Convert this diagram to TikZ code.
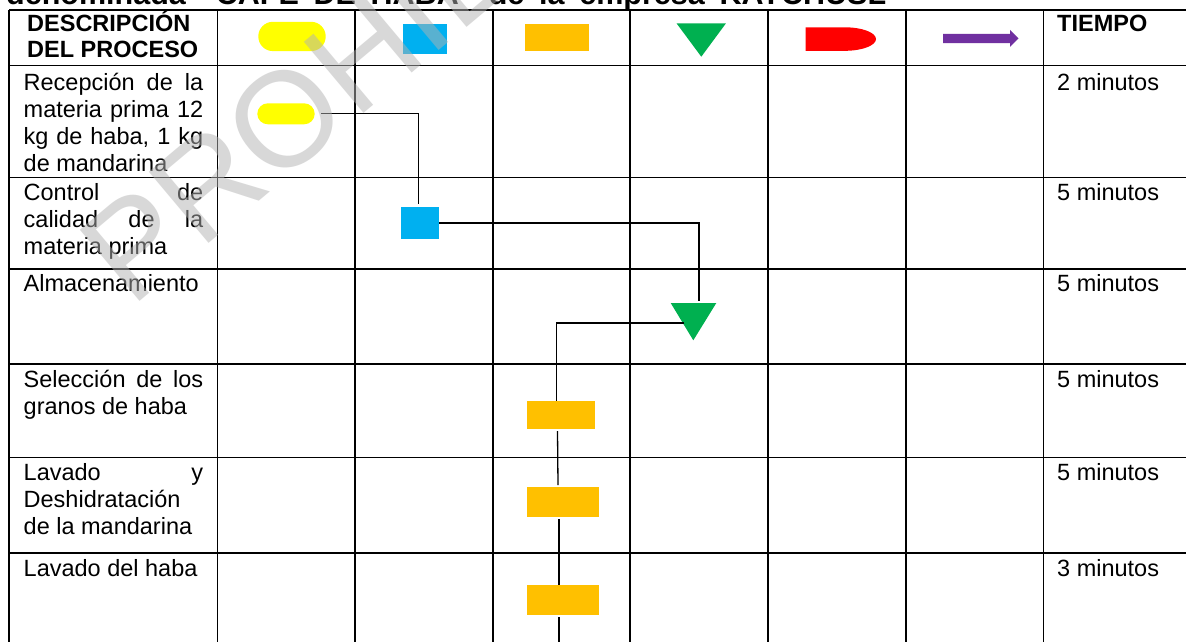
\documentclass[tikz,border=0pt]{standalone}
\usepackage{fontspec}
\setmainfont{Liberation Sans}
\definecolor{cyel}{HTML}{FFFF00}
\definecolor{cblue}{HTML}{00B0F0}
\definecolor{corange}{HTML}{FFC000}
\definecolor{cgreen}{HTML}{00B050}
\definecolor{cred}{HTML}{FF0000}
\definecolor{cpurple}{HTML}{7030A0}
\newcommand{\jl}[1]{\makebox[\linewidth][s]{#1}}
\newcommand{\cellbox}[1]{\parbox[t]{179.5pt}{\fontsize{23.5}{27}\selectfont #1}}
\begin{document}
\begin{tikzpicture}[x=1pt,y=-1pt,
  grid/.style={line width=1.6pt, black},
  conn/.style={line width=1.3pt, black},
  body/.style={inner sep=0pt, anchor=base west, font=\fontsize{23.5}{27}\selectfont},
  hdr/.style={inner sep=0pt, anchor=base west, font=\fontsize{23.5}{26}\selectfont\bfseries},
  shp/.style={inner sep=0pt, outer sep=0pt, draw=none},
  wmark/.style={inner sep=0pt, anchor=base west, font=\fontsize{135}{135}\selectfont, text=black!30, text opacity=0.5}
]
\useasboundingbox (0,0) rectangle (1186,641);
\clip (0,0) rectangle (1186,641);
\fill[white] (0,0) rectangle (1186,641);

% clipped title
\node[inner sep=0pt, anchor=base west, font=\fontsize{30.5}{32}\selectfont\bfseries] (title) at (6,4.5)
  {\makebox[880pt][s]{denominada “CAFÉ DE HABA” de la empresa KAYCHUSL}};

% table grid
\foreach \yy in {10,65.5,177.5,269,364,457.5,553}
  \draw[grid] (9,\yy) -- (1190,\yy);
\foreach \xx in {9,217.5,355,493,630,768,906,1043.5}
  \draw[grid] (\xx,10) -- (\xx,645);

% header
\node[hdr] (hd) at (27,31.7) {\parbox[t]{190pt}{\fontsize{23.5}{26}\selectfont\bfseries DESCRIPCIÓN\\DEL PROCESO}};
\node[hdr] (ht) at (1057,31.2) {TIEMPO};

\node[shp, fill=cyel, rounded corners=14.6pt, minimum width=67.4pt, minimum height=29.3pt] (hy) at (292,36.45) {};
\node[shp, fill=cblue, minimum width=43.6pt, minimum height=30.4pt] (hb) at (424.8,39.2) {};
\node[shp, fill=corange, minimum width=63.6pt, minimum height=26.8pt] (ho) at (556.8,37.4) {};
\fill[cgreen] (676.6,23.4) -- (725.9,23.4) -- (701.3,56.7) -- cycle;
\fill[cred] (805.5,27.3) -- (845,27.3) .. controls (862.1,27.3) and (876,32.56) .. (876,39.05)
   .. controls (876,45.54) and (862.1,50.8) .. (845,50.8) -- (805.5,50.8) -- cycle;
\fill[cpurple] (943,33.8) -- (1010,33.8) -- (1010,29.9) -- (1018.5,38.4) -- (1010,46.9) -- (1010,43) -- (943,43) -- cycle;

% description column
\node[body] (t1) at (23.5,90) {\cellbox{\jl{Recepción de la}\\\jl{materia prima 12}\\\jl{kg de haba, 1 kg}\\de mandarina}};
\node[body] (t2) at (23.5,200) {\cellbox{\jl{Control de}\\\jl{calidad de la}\\materia prima}};
\node[body] (t3) at (23.5,291.7) {\cellbox{Almacenamiento}};
\node[body] (t4) at (23.5,387.5) {\cellbox{\jl{Selección de los}\\granos de haba}};
\node[body] (t5) at (23.5,480.5) {\cellbox{\jl{Lavado y}\\Deshidratación\\de la mandarina}};
\node[body] (t6) at (23.5,576.5) {\cellbox{Lavado del haba}};

% time column
\node[body] (m1) at (1057,90) {2 minutos};
\node[body] (m2) at (1057,200) {5 minutos};
\node[body] (m3) at (1057,291.7) {5 minutos};
\node[body] (m4) at (1057,387.5) {5 minutos};
\node[body] (m5) at (1057,480.5) {5 minutos};
\node[body] (m6) at (1057,576.5) {3 minutos};

% flow symbols
\node[shp, fill=cyel, rounded corners=10.5pt, minimum width=57.4pt, minimum height=21pt] (y1) at (286,113.8) {};
\node[shp, fill=cblue, minimum width=38pt, minimum height=31.7pt] (b1) at (420,222.85) {};
\fill[cgreen] (670.7,303) -- (716.3,303) -- (693.3,340.3) -- cycle;
\coordinate (g1in) at (699,300.7);
\coordinate (g1out) at (684.3,323);
\node[shp, fill=corange, minimum width=68pt, minimum height=28pt] (o1) at (561,415) {};
\node[shp, fill=corange, minimum width=72pt, minimum height=30pt] (o2) at (563,502) {};
\node[shp, fill=corange, minimum width=72pt, minimum height=30pt] (o3) at (563,600) {};
\coordinate (fend) at (559,645);

% connectors
\draw[conn] ([xshift=6.5pt]y1.east) -| ([xshift=-1.3pt,yshift=2.7pt]b1.north);
\draw[conn] (b1.east) -| (g1in);
\draw[conn] (g1out) -| ([xshift=-4.5pt]o1.north);
\draw[conn] ([xshift=-3.5pt,yshift=-2pt]o1.south) -- ([xshift=-5pt,yshift=2pt]o2.north);
\draw[conn] ([xshift=-4pt,yshift=-2pt]o2.south) -- ([xshift=-4pt]o3.north);
\draw[conn] ([xshift=-4pt,yshift=-2pt]o3.south) -- (fend);

% watermark
\node[wmark, rotate=40] (wm) at (131,309) {PROHIBIDA};
\end{tikzpicture}
\end{document}
